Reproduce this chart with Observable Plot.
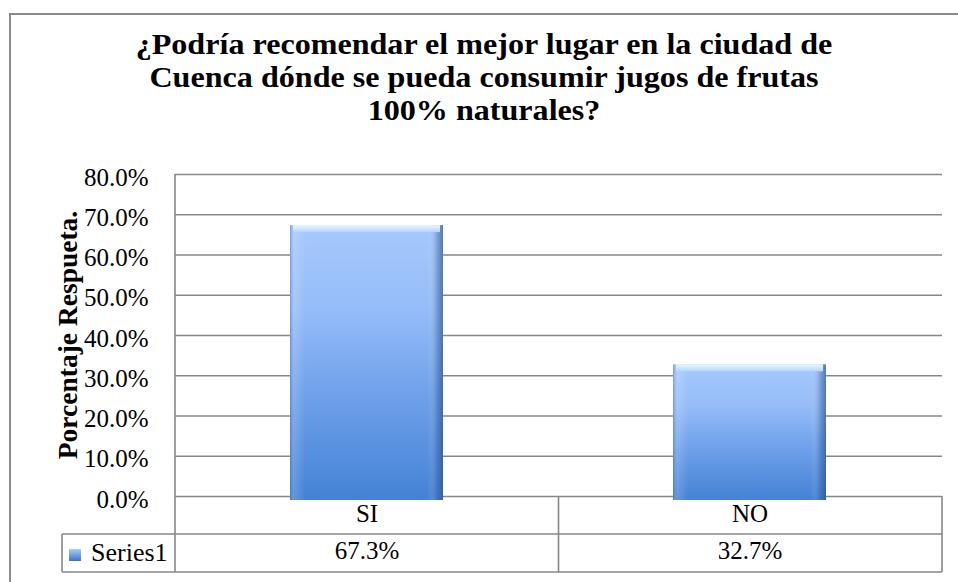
<!DOCTYPE html>
<html><head><meta charset="utf-8">
<script src="https://cdn.jsdelivr.net/npm/d3@7"></script>
<script src="https://cdn.jsdelivr.net/npm/@observablehq/plot@0.6"></script>
<style>
body{margin:0;background:#fff;}
#wrap{position:relative;width:958px;height:582px;overflow:hidden;font-family:'Liberation Serif','Times New Roman',serif;}
#border{position:absolute;left:9px;top:13px;width:980px;height:620px;border:2px solid #8a8a8a;box-sizing:border-box;}
#title{position:absolute;left:10px;width:948px;top:27px;text-align:center;font-family:'Liberation Serif','Times New Roman',serif;font-weight:bold;font-size:30px;line-height:33px;color:#000;transform:scaleX(1.07);transform-origin:474px 0;}
#chart{position:absolute;left:0;top:0;}
</style></head><body>
<div id="wrap"><div id="border"></div><div id="title">¿Podría recomendar el mejor lugar en la ciudad de<br>Cuenca dónde se pueda consumir jugos de frutas<br>100% naturales?</div><div id="chart"></div></div>
<script>
// ---- data ----
const categories = ["SI", "NO"];
const values = [0.673, 0.327];
const seriesName = "Series1";
const yTicks = [0, 0.1, 0.2, 0.3, 0.4, 0.5, 0.6, 0.7, 0.8];
const yLabel = "Porcentaje Respueta.";

const data = categories.map((c, i) => ({cat: c, value: values[i]}));
const fmt = d3.format(".1%");
const FONT = "'Liberation Serif','Times New Roman',serif";
const GRID = "#878787";

const NS = "http://www.w3.org/2000/svg";
function el(tag, attrs, text) {
  const e = document.createElementNS(NS, tag);
  for (const k in attrs) e.setAttribute(k, attrs[k]);
  if (text != null) e.textContent = text;
  return e;
}
function grad(id, x2, y2, stops) {
  const g = el("linearGradient", {id, x1: 0, y1: 0, x2, y2});
  for (const [o, c, op] of stops) g.appendChild(el("stop", {offset: o, "stop-color": c, "stop-opacity": op == null ? 1 : op}));
  return g;
}

// defs for bar gradients
function defsMark() {
  const defs = el("defs", {});
  defs.appendChild(grad("barV", 0, 1, [["0", "#a6c9fc"], ["0.3", "#96bdf9"], ["0.6", "#71a2eb"], ["1", "#4482d5"]]));
  defs.appendChild(grad("barH", 1, 0, [["0", "#3f6aa8", 0.45], ["0.03", "#ffffff", 0.15], ["0.1", "#ffffff", 0], ["0.9", "#ffffff", 0], ["0.96", "#2e5590", 0.3], ["1", "#2a4a80", 0.65]]));
  defs.appendChild(grad("barTop", 0, 1, [["0", "#e9f8ff"], ["1", "#b4d4fb"]]));
  defs.appendChild(grad("key", 0, 1, [["0", "#a9cbfd"], ["1", "#3f74c0"]]));
  return defs;
}

// data table, axis line and y label
function tableMark(index, scales, vals, dims) {
  const {width, height, marginLeft, marginRight, marginTop, marginBottom} = dims;
  const g = el("g", {"text-anchor": "start", style: `font-family:${FONT}`});
  const x0 = marginLeft, x1 = width - marginRight;
  const y0 = height - marginBottom;
  const rowH = 38;
  const y1 = y0 + rowH, y2 = y0 + 2 * rowH;
  const labelW = 113;
  const line = (a, b, c, d) => g.appendChild(el("line", {x1: a, y1: b, x2: c, y2: d, stroke: GRID, "stroke-width": 1.6}));
  // vertical axis line through the table
  line(x0, marginTop, x0, y2);
  // table lines
  line(x0 - labelW, y1, x1, y1);
  line(x0 - labelW, y2, x1, y2);
  line(x0 - labelW, y1, x0 - labelW, y2);
  line(x1, y0, x1, y2);
  const n = categories.length;
  for (let i = 1; i < n; i++) {
    const xb = x0 + i * (x1 - x0) / n;
    line(xb, y0, xb, y2);
  }
  // legend key + series name
  g.appendChild(el("rect", {x: x0 - labelW + 7, y: y1 + 15, width: 12, height: 12, fill: "url(#key)"}));
  g.appendChild(el("text", {x: x0 - labelW + 29, y: y1 + 19, dy: "0.32em", "text-anchor": "start", style: `font-family:${FONT};font-size:26px`, fill: "#000"}, seriesName));
  // y axis label
  const cy = (marginTop + y0) / 2;
  g.appendChild(el("text", {transform: `translate(${x0 - 107},${cy}) rotate(-90)`, dy: "0.32em", "text-anchor": "middle", style: `font-family:${FONT};font-size:27.5px;font-weight:bold`, fill: "#000"}, yLabel));
  return g;
}

const chart = Plot.plot({
  width: 958,
  height: 582,
  marginLeft: 175,
  marginRight: 16,
  marginTop: 174,
  marginBottom: 86,
  style: {fontFamily: FONT, fontSize: "25px", background: "transparent", overflow: "visible", color: "#000"},
  x: {domain: categories, paddingInner: 0.6, paddingOuter: 0.3, axis: null},
  y: {domain: [0, 0.8]},
  marks: [
    defsMark,
    Plot.gridY(yTicks, {stroke: GRID, strokeOpacity: 1, strokeWidth: 1.6}),
    Plot.axisY(yTicks, {tickFormat: fmt, tickSize: 0, tickPadding: 27, fontSize: 25, fontFamily: FONT, dy: 3, label: null}),
    Plot.barY(data, {x: "cat", y: "value", fill: "url(#barV)", insetBottom: -4}),
    Plot.barY(data, {x: "cat", y: "value", fill: "url(#barH)", insetBottom: -4}),
    Plot.barY(data, {x: "cat", y1: "value", y2: "value", fill: "url(#barTop)", insetBottom: -7, insetLeft: 3, insetRight: 3}),
    tableMark,
    Plot.text(data, {x: "cat", frameAnchor: "bottom", dy: 25, text: "cat", fontSize: 25, fontFamily: FONT, fill: "#000"}),
    Plot.text(data, {x: "cat", frameAnchor: "bottom", dy: 62, text: d => fmt(d.value), fontSize: 25, fontFamily: FONT, fill: "#000"})
  ]
});
document.getElementById("chart").appendChild(chart);
</script>
</body></html>
